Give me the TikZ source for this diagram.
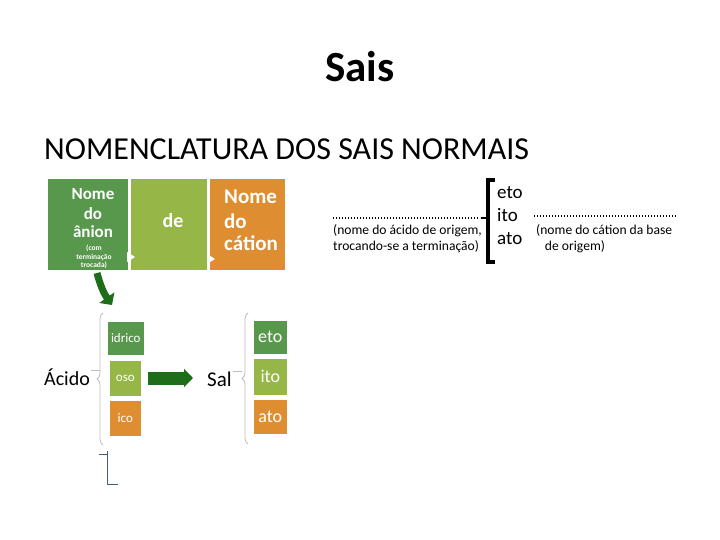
\documentclass[tikz,border=0pt]{standalone}
\usepackage{fontspec}
\setmainfont{Carlito}
\usetikzlibrary{arrows.meta,decorations.pathreplacing}

\definecolor{verdeesc}{RGB}{88,152,76}
\definecolor{verdecl}{RGB}{150,183,72}
\definecolor{laranja}{RGB}{222,142,48}
\definecolor{setaverde}{RGB}{30,110,25}
\definecolor{chave}{RGB}{190,190,190}
\definecolor{azulcinza}{RGB}{70,95,120}

\newcommand{\tam}[1]{\fontsize{#1}{#1}\selectfont}

\begin{document}
\begin{tikzpicture}[x=1pt,y=-1pt,
    caixa/.style={fill=#1,draw=white,line width=0.6pt,anchor=north west,inner sep=0pt},
    branco/.style={text=white,inner sep=0pt,anchor=base},
    triang/.style={fill=white,draw=none},
    chaveta/.style={draw=chave,line width=0.8pt,decorate,decoration={brace,amplitude=6pt}},
    seta/.style={draw=setaverde,line width=#1,-{Triangle[length=9pt,width=18pt]}}]
  \fill[white] (0,0) rectangle (720,540);
  % titulos
  \node[anchor=base] (titulo) at (360,82) {\bfseries\tam{43}Sais};
  \node[anchor=base west,inner sep=0pt] (subtitulo) at (44,160) {\tam{32}NOMENCLATURA DOS SAIS NORMAIS};
  % faixa de cima
  \node[caixa=verdeesc,minimum width=81,minimum height=92] (anion) at (47,178) {};
  \node[caixa=verdecl,minimum width=77,minimum height=92] (de) at (130,178) {};
  \node[caixa=laranja,minimum width=76,minimum height=92] (cation) at (209,178) {};
  \foreach \t/\y in {Nome/200,do/219,ânion/237}
    \node[branco,font=\bfseries\tam{17}] at (93,\y) {\t};
  \foreach \t/\y in {{(com}/251,terminação/259,{trocada)}/267}
    \node[branco,font=\bfseries\tam{7.5}] at (94,\y) {\t};
  \node[branco,font=\bfseries\tam{20}] (detxt) at (173,227) {de};
  \foreach \t/\y in {Nome/204,do/229,cátion/251}
    \node[branco,font=\bfseries\tam{21},anchor=base west] at (224,\y) {\t};
  \fill[triang] (127,252) -- (135,257) -- (127,262) -- cycle;
  \fill[triang] (207,254) -- (215,259) -- (207,264) -- cycle;
  \coordinate (curva) at (97,273);
  \coordinate (ponta) at (112,305);
  \draw[seta=7pt] (curva) to[bend right=10] (ponta);
  % acido -> sal
  \node[anchor=base west,inner sep=0pt] (acido) at (44,385) {\tam{20}Ácido};
  \node[anchor=base west,inner sep=0pt] (sal) at (207,386) {\tam{21}Sal};
  \node[caixa=verdeesc,minimum width=37,minimum height=34] (idrico) at (107,321) {};
  \node[caixa=verdecl,minimum width=32,minimum height=36] (oso) at (109,360) {};
  \node[caixa=laranja,minimum width=32,minimum height=36] (ico) at (109,400) {};
  \foreach \n/\t in {idrico/idrico,oso/oso,ico/ico}
    \node[text=white,font=\tam{13}] at (\n.center) {\t};
  \node[caixa=verdeesc,minimum width=34,minimum height=34] (eto) at (253,320) {};
  \node[caixa=verdecl,minimum width=34,minimum height=37] (ito) at (253,358) {};
  \node[caixa=laranja,minimum width=34,minimum height=35] (ato) at (253,399) {};
  \foreach \n in {eto,ito,ato}
    \node[text=white,font=\tam{18}] at (\n.center) {\n};
  \coordinate (cimaA) at (103,313);
  \coordinate (baixoA) at (103,445);
  \coordinate (cimaS) at (248,313);
  \coordinate (baixoS) at (248,444);
  \draw[chaveta] (baixoA) -- (cimaA);
  \draw[chaveta] (baixoS) -- (cimaS);
  \draw[chave,line width=0.8pt] (acido.east) ++(1,-6) -- +(9,0);
  \draw[chave,line width=0.8pt] (sal.east) ++(1,-7) -- +(9,0);
  \coordinate (sai) at (148,378);
  \coordinate (chega) at (193,378);
  \draw[seta=13pt] (sai) -- (chega);
  % marca de baixo
  \draw[azulcinza,line width=0.8pt] (99,454) -- (107,454) (107,451) -- (107,484) -- (118,484);
  % regra geral
  \node[anchor=base west,inner sep=0pt,font=\tam{19}] (eto2) at (497,199) {eto};
  \node[anchor=base west,inner sep=0pt,font=\tam{19}] (ito2) at (497,222) {ito};
  \node[anchor=base west,inner sep=0pt,font=\tam{19}] (ato2) at (497,244) {ato};
  \draw[line width=3.5pt] (495,180) -- (488,180) -- (488,262) -- (495,262);
  \draw[line width=2pt] (488,218) -- (481,218);
  \coordinate (pontosA) at (333,218);
  \coordinate (pontosB) at (480,218);
  \coordinate (pontosC) at (534,216);
  \coordinate (pontosD) at (677,216);
  \draw[line width=1.3pt,dash pattern=on 1.3pt off 1.7pt] (pontosA) -- (pontosB);
  \draw[line width=1.3pt,dash pattern=on 1.3pt off 1.7pt] (pontosC) -- (pontosD);
  \node[anchor=base west,inner sep=0pt,font=\tam{13.6}] (acorig) at (333,235) {(nome do ácido de origem,};
  \node[anchor=base west,inner sep=0pt,font=\tam{13.6}] (troca) at (333,251) {trocando-se a terminação)};
  \node[anchor=base west,inner sep=0pt,font=\tam{13.6}] (catorig) at (536,235) {(nome do cátion da base};
  \node[anchor=base,inner sep=0pt,font=\tam{13.6}] (deorig) at (575,250) {de origem)};
\end{tikzpicture}
\end{document}
